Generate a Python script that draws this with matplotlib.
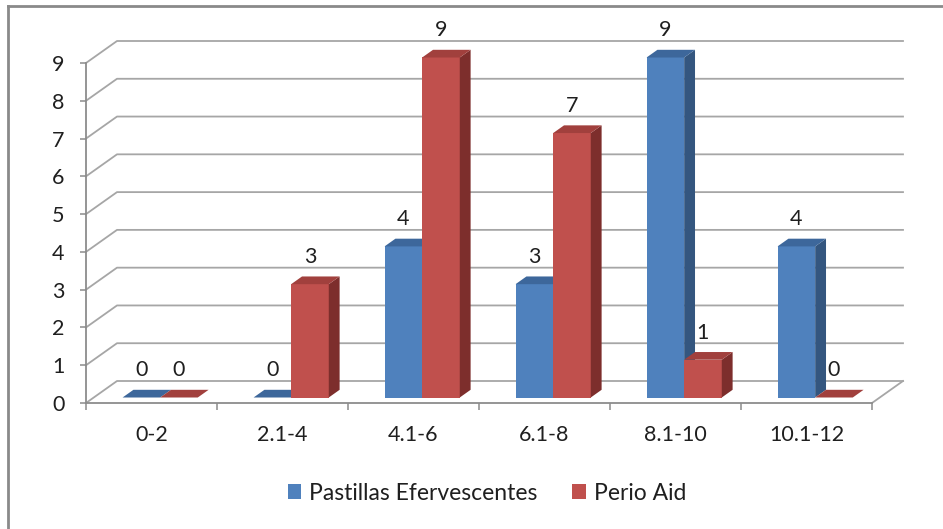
import matplotlib
matplotlib.use("Agg")
import matplotlib.pyplot as plt
from matplotlib.patches import Polygon, Patch
from matplotlib.lines import Line2D

# ---- data ----
categories = ["0-2", "2.1-4", "4.1-6", "6.1-8", "8.1-10", "10.1-12"]
series_names = ["Pastillas Efervescentes", "Perio Aid"]
pastillas = [0, 0, 4, 3, 9, 4]
perio = [0, 3, 9, 7, 1, 0]
y_ticks = list(range(0, 10))

# ---- style ----
FONT = "Lato"
FS = 15.5
TXT = "#1f1f1f"
GRID = "#a6a6a6"
AXIS = "#8c8c8c"
face_cols = {
    0: dict(front="#4f81bd", side="#34567f", top="#3d679b"),
    1: dict(front="#c0504d", side="#7d2e2c", top="#a1403d"),
}

W, H = 943, 529
fig = plt.figure(figsize=(W / 100, H / 100), dpi=100)
fig.patch.set_facecolor("white")

# front plane of the chart: x in category units, y in value units
ax_left, ax_right, y0_px, y9_px = 86, 872, 403, 63
ax = fig.add_axes([ax_left / W, (H - y0_px) / H,
                   (ax_right - ax_left) / W, (y0_px - y9_px) / H])
ax.set_xlim(0, len(categories))
ax.set_ylim(0, 9)
ax.patch.set_visible(False)

# oblique depth vector (full depth of the floor), in data units
px_per_cat = (ax_right - ax_left) / len(categories)
px_per_val = (y0_px - y9_px) / 9
DX = 31 / px_per_cat
DY = 22 / px_per_val

# back wall gridlines with their left-wall slant
n = len(categories)
for v in y_ticks:
    ax.add_line(Line2D([0, DX, n + DX], [v, v + DY, v + DY], color=GRID,
                       lw=1.3, clip_on=False, zorder=1))
# right edge of floor
ax.add_line(Line2D([n, n + DX], [0, DY], color=GRID, lw=1.3,
                   clip_on=False, zorder=1))

# bars
d0, d1 = 0.25, 0.60
bar_w = 0.287
offsets = [0.22, 0.22 + bar_w]
for i in range(n):
    for s, vals in enumerate([pastillas, perio]):
        v = vals[i]
        x0 = i + offsets[s]
        x1 = x0 + bar_w
        c = face_cols[s]
        fa, fb = d0 * DX, d0 * DY
        ba, bb = d1 * DX, d1 * DY
        z = 3 + i * 2 + s
        if v > 0:
            ax.add_patch(Polygon([(x0 + fa, fb), (x1 + fa, fb), (x1 + fa, v + fb),
                                  (x0 + fa, v + fb)], closed=True, fc=c["front"],
                                 ec="none", clip_on=False, zorder=z))
            ax.add_patch(Polygon([(x1 + fa, fb), (x1 + ba, bb), (x1 + ba, v + bb),
                                  (x1 + fa, v + fb)], closed=True, fc=c["side"],
                                 ec="none", clip_on=False, zorder=z))
        ax.add_patch(Polygon([(x0 + fa, v + fb), (x1 + fa, v + fb), (x1 + ba, v + bb),
                              (x0 + ba, v + bb)], closed=True, fc=c["top"],
                             ec="none", clip_on=False, zorder=z))
        ax.annotate(str(v), xy=((x0 + x1) / 2 + fa, v + fb), xytext=(0, 19.5),
                    textcoords="offset points", ha="center", va="center",
                    fontsize=FS, family=FONT, color=TXT, zorder=20,
                    annotation_clip=False)

# axes: front y axis and floor front edge
for side in ["top", "right"]:
    ax.spines[side].set_visible(False)
for side in ["left", "bottom"]:
    ax.spines[side].set_color(AXIS)
    ax.spines[side].set_linewidth(1.3)
    ax.spines[side].set_zorder(2)

ax.set_yticks(y_ticks)
ax.set_yticklabels([str(t) for t in y_ticks], family=FONT, fontsize=FS, color=TXT)
ax.tick_params(axis="y", direction="out", length=4.5, width=1.1, color=AXIS, pad=11)

ax.set_xticks(range(n + 1))
ax.set_xticklabels([])
ax.set_xticks([i + 0.5 for i in range(n)], minor=True)
ax.set_xticklabels(categories, minor=True, family=FONT, fontsize=FS, color=TXT)
ax.tick_params(axis="x", which="major", direction="out", length=5, width=1.1, color=AXIS)
ax.tick_params(axis="x", which="minor", length=0, pad=16)

# legend
handles = [Patch(fc=face_cols[0]["front"], ec="none"),
           Patch(fc=face_cols[1]["front"], ec="none")]
leg = fig.legend(handles, series_names, loc="center",
                 bbox_to_anchor=(487 / W, 1 - 493 / H), ncol=2, frameon=False,
                 prop=dict(family=FONT, size=16.5), handlelength=0.6,
                 handleheight=0.6, handletextpad=0.35, columnspacing=1.5)
for t in leg.get_texts():
    t.set_color(TXT)

# outer chart border
fig.add_artist(Line2D([8 / W, 1], [1 - 6 / H, 1 - 6 / H], transform=fig.transFigure,
                      color="#8a8a8a", lw=2))
fig.add_artist(Line2D([8 / W, 8 / W], [0, 1 - 6 / H], transform=fig.transFigure,
                      color="#8a8a8a", lw=2))

fig.savefig("out.png", dpi=100, facecolor="white")
